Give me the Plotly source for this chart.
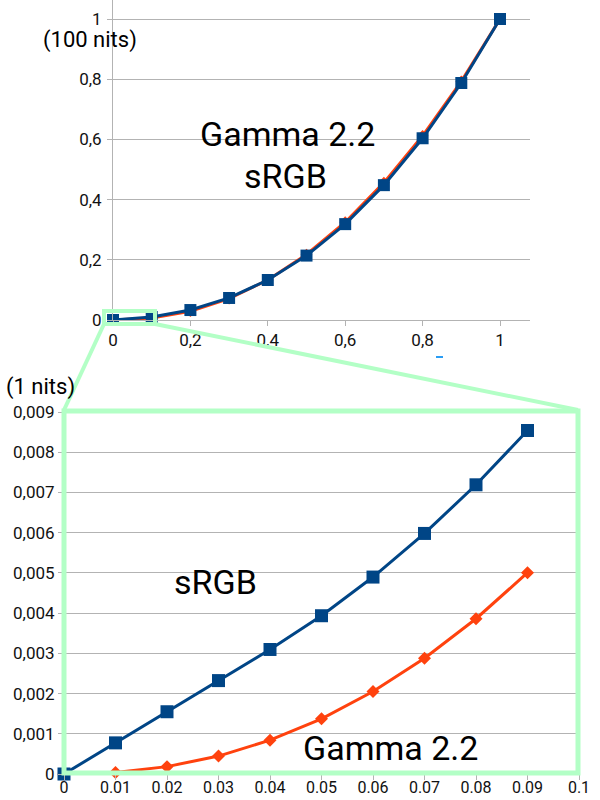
import plotly.graph_objects as go

W, H = 600, 800

# ---- data ----
x_top = [0, 0.1, 0.2, 0.3, 0.4, 0.5, 0.6, 0.7, 0.8, 0.9, 1.0]
srgb_top = [0, 0.0100, 0.0331, 0.0732, 0.1329, 0.2140, 0.3185, 0.4480, 0.6038, 0.7874, 1.0]
gamma_top = [0, 0.0063, 0.0290, 0.0707, 0.1329, 0.2176, 0.3250, 0.4563, 0.6121, 0.7927, 1.0]

x_bot = [0, 0.01, 0.02, 0.03, 0.04, 0.05, 0.06, 0.07, 0.08, 0.09]
srgb_bot = [0, 0.000774, 0.001548, 0.002322, 0.003096, 0.003935, 0.004896, 0.005981, 0.007190, 0.008540]
gamma_bot = [0, 0.0000398, 0.000183, 0.000446, 0.000840, 0.001373, 0.002051, 0.002879, 0.003860, 0.005004]

top_xticks = [0, 0.2, 0.4, 0.6, 0.8, 1.0]
top_xtext = ["0", "0,2", "0,4", "0,6", "0,8", "1"]
top_yticks = [0, 0.2, 0.4, 0.6, 0.8, 1.0]
top_ytext = ["0", "0,2", "0,4", "0,6", "0,8", "1"]
bot_xticks = [0, 0.01, 0.02, 0.03, 0.04, 0.05, 0.06, 0.07, 0.08, 0.09, 0.1]
bot_xtext = ["0", "0.01", "0.02", "0.03", "0.04", "0.05", "0.06", "0.07", "0.08", "0.09", "0.1"]
bot_yticks = [0, 0.001, 0.002, 0.003, 0.004, 0.005, 0.006, 0.007, 0.008, 0.009]
bot_ytext = ["0", "0,001", "0,002", "0,003", "0,004", "0,005", "0,006", "0,007", "0,008", "0,009"]

BLUE = "#004586"
ORANGE = "#ff420e"
GREEN = "#b3ffc6"
GRID = "#b3b3b3"
FONT = "Roboto"

def px(t):
    return t / W

def py(t):
    return 1 - t / H

fig = go.Figure()

# top chart
fig.add_trace(go.Scatter(x=x_top, y=gamma_top, mode="lines+markers", xaxis="x", yaxis="y",
                         line=dict(color=ORANGE, width=3),
                         marker=dict(symbol="diamond", size=9, color=ORANGE),
                         cliponaxis=False, showlegend=False))
fig.add_trace(go.Scatter(x=x_top, y=srgb_top, mode="lines+markers", xaxis="x", yaxis="y",
                         line=dict(color=BLUE, width=3),
                         marker=dict(symbol="square", size=12, color=BLUE),
                         cliponaxis=False, showlegend=False))
# bottom chart
fig.add_trace(go.Scatter(x=x_bot, y=gamma_bot, mode="lines+markers", xaxis="x2", yaxis="y2",
                         line=dict(color=ORANGE, width=3),
                         marker=dict(symbol="diamond", size=10, color=ORANGE),
                         cliponaxis=False, showlegend=False))
fig.add_trace(go.Scatter(x=x_bot, y=srgb_bot, mode="lines+markers", xaxis="x2", yaxis="y2",
                         line=dict(color=BLUE, width=3),
                         marker=dict(symbol="square", size=13, color=BLUE),
                         cliponaxis=False, showlegend=False))

axis_common = dict(showline=True, linecolor=GRID, linewidth=1, ticks="outside", ticklen=5,
                   tickcolor=GRID, zeroline=False, tickmode="array", automargin=False)
tick_font = dict(family=FONT, size=17, color="#111")

top_ymax = 320 / (320 - 19)

fig.update_layout(
    width=W, height=H, margin=dict(l=0, r=0, t=0, b=0, pad=0, autoexpand=False),
    paper_bgcolor="white", plot_bgcolor="white",
    font=dict(family=FONT),
    xaxis=dict(domain=[px(113), px(530)], range=[0, (530 - 113) / (500 - 113)], anchor="y",
               tickvals=top_xticks, ticktext=top_xtext, showgrid=False, tickfont=tick_font,
               **axis_common),
    yaxis=dict(domain=[py(320), 1], range=[0, top_ymax], anchor="x",
               tickvals=top_yticks, ticktext=top_ytext, showgrid=True, gridcolor=GRID,
               gridwidth=1, ticklabelstandoff=2, tickfont=tick_font, **axis_common),
    xaxis2=dict(domain=[px(64), px(579)], range=[0, 0.1], anchor="y2",
                tickvals=bot_xticks, ticktext=bot_xtext, showgrid=False,
                tickfont=dict(family=FONT, size=16, color="#111"), ticklabelstandoff=-6,
                **axis_common),
    yaxis2=dict(domain=[py(774), py(412)], range=[0, 0.009], anchor="x2",
                tickvals=bot_yticks, ticktext=bot_ytext, showgrid=True, gridcolor=GRID,
                gridwidth=1, tickfont=tick_font, **axis_common),
)

shapes = [
    # zoom box on top chart
    dict(type="rect", xref="paper", yref="paper", x0=px(104), x1=px(155), y0=py(324), y1=py(311),
         line=dict(color=GREEN, width=4)),
    # connecting lines
    dict(type="line", xref="paper", yref="paper", x0=px(104), y0=py(324), x1=px(64), y1=py(410),
         line=dict(color=GREEN, width=4)),
    dict(type="line", xref="paper", yref="paper", x0=px(155), y0=py(324), x1=px(578), y1=py(410),
         line=dict(color=GREEN, width=4)),
    # big box around bottom chart
    dict(type="rect", xref="paper", yref="paper", x0=px(64), x1=px(578), y0=py(773), y1=py(411),
         line=dict(color=GREEN, width=5)),
    # small blue dash
    dict(type="line", xref="paper", yref="paper", x0=px(436), x1=px(443), y0=py(357), y1=py(357),
         line=dict(color="#2a9df4", width=2)),
]
fig.update_layout(shapes=shapes)

ann = [
    ("Gamma 2.2", 287, 134, 34),
    ("sRGB", 285, 176, 34),
    ("sRGB", 215, 582, 34),
    ("Gamma 2.2", 390, 748, 34),
    ("(100 nits)", 90, 40, 22),
    ("(1 nits)", 40, 387, 22),
]
annotations = []
for text, x, y, s in ann:
    annotations.append(dict(text=text, x=px(x), y=py(y), xref="paper", yref="paper",
                            showarrow=False, xanchor="center", yanchor="middle",
                            font=dict(family=FONT, size=s, color="black")))
fig.update_layout(annotations=annotations)

fig.write_html("out.html")
